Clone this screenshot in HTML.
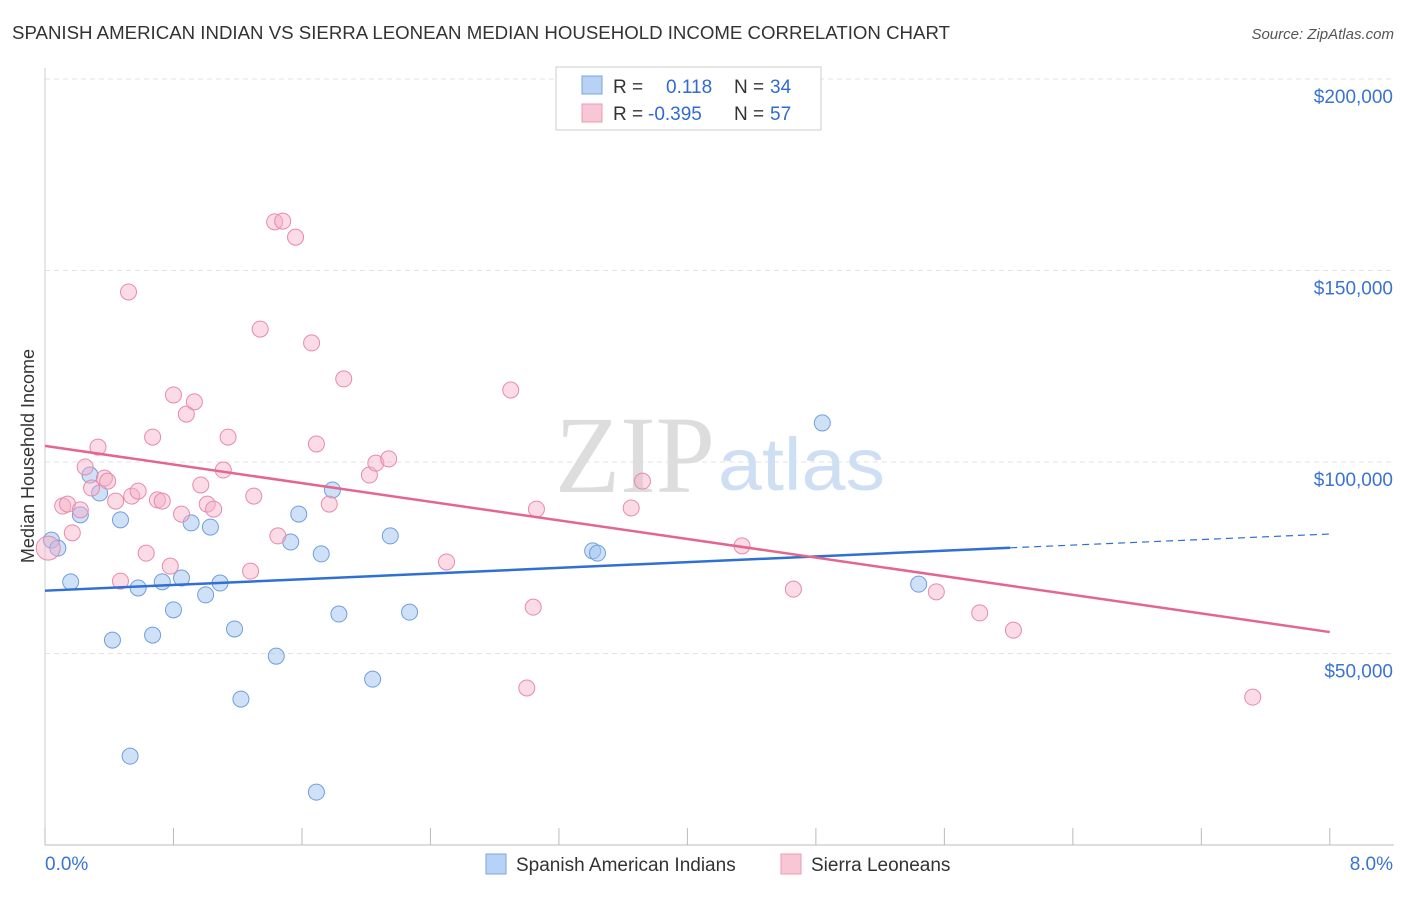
<!DOCTYPE html>
<html><head><meta charset="utf-8"><style>
body{margin:0;background:#fff;font-family:"Liberation Sans",sans-serif}
</style></head><body>
<svg id="chart" width="1406" height="892" xmlns="http://www.w3.org/2000/svg" font-family="Liberation Sans, sans-serif">
<text x="12" y="39" font-size="18" fill="#333" textLength="938" lengthAdjust="spacingAndGlyphs">SPANISH AMERICAN INDIAN VS SIERRA LEONEAN MEDIAN HOUSEHOLD INCOME CORRELATION CHART</text>
<text x="1394" y="39" font-size="15" fill="#555" font-style="italic" text-anchor="end">Source: ZipAtlas.com</text>
<text x="0" y="0" transform="translate(34,456) rotate(-90)" font-size="18" fill="#333" text-anchor="middle">Median Household Income</text>
<g id="grid"></g>
<text x="555" y="492" font-size="110" fill="#ddd" textLength="160" lengthAdjust="spacingAndGlyphs" font-family="Liberation Serif, serif">ZIP</text>
<text x="718" y="490" font-size="74" fill="#cfdff3" textLength="167" lengthAdjust="spacingAndGlyphs">atlas</text>
<g id="axes"></g>
<g id="marks"></g>
<g>
<rect x="556" y="67" width="265" height="63" fill="#fff" stroke="#ccc"/>
<rect x="582" y="76" width="20" height="18" fill="#b8d2f5" stroke="#7aa6e0"/>
<rect x="582" y="104" width="20" height="18" fill="#f9c6d6" stroke="#ea9ab4"/>
<text x="613" y="93" font-size="19" fill="#333">R = <tspan x="666" fill="#2f6bd0">0.118</tspan><tspan x="734" fill="#333">N = </tspan><tspan x="770" fill="#2f6bd0">34</tspan></text>
<text x="613" y="120" font-size="19" fill="#333">R = <tspan x="648" fill="#2f6bd0">-0.395</tspan><tspan x="734" fill="#333">N = </tspan><tspan x="770" fill="#2f6bd0">57</tspan></text>
</g>
<g>
<rect x="486" y="854" width="20" height="20" fill="#b8d2f5" stroke="#7aa6e0"/>
<text x="516" y="871" font-size="19" fill="#333">Spanish American Indians</text>
<rect x="781" y="854" width="20" height="20" fill="#f9c6d6" stroke="#ea9ab4"/>
<text x="811" y="871" font-size="19" fill="#333">Sierra Leoneans</text>
</g>
</svg>
<script>
const yTicks=[50000,100000,150000,200000];
const yTickLabels=["$50,000","$100,000","$150,000","$200,000"];
const blueX=[0.04,0.08,0.16,0.28,0.34,0.22,0.47,0.42,0.58,0.67,0.73,0.80,0.85,0.91,1.00,1.03,1.09,1.18,1.22,1.44,1.53,1.58,1.69,1.72,1.79,1.83,2.04,2.15,2.27,3.41,3.44,4.84,5.44,0.53];
const blueY=[79.6,77.5,68.7,96.6,91.9,86.2,84.9,53.5,67.1,54.8,68.7,61.4,69.7,84.1,65.3,83.0,68.4,56.4,38.1,49.3,79.1,86.4,13.8,76.0,92.7,60.3,43.3,80.7,60.8,76.8,76.2,110.2,68.1,23.2];
const pinkX=[0.02,0.11,0.14,0.17,0.22,0.25,0.29,0.33,0.37,0.39,0.44,0.47,0.52,0.54,0.58,0.63,0.67,0.70,0.73,0.78,0.80,0.85,0.88,0.93,0.97,1.01,1.05,1.11,1.14,1.28,1.30,1.34,1.43,1.48,1.45,1.56,1.66,1.69,1.77,1.86,2.02,2.06,2.14,2.50,2.90,3.00,3.04,3.06,3.65,3.72,4.34,4.66,5.55,5.82,6.03,7.52];
const pinkY=[77.5,88.5,89.0,81.5,87.5,98.7,93.2,103.9,95.8,95.0,89.8,68.9,144.4,91.1,92.4,76.2,106.5,90.1,89.8,72.8,117.5,86.4,112.5,115.7,94.0,89.0,87.7,97.9,106.5,71.5,91.1,134.7,162.7,162.9,80.7,158.7,131.1,104.7,89.0,121.7,96.6,99.7,100.8,73.9,118.8,41.0,62.1,87.7,88.0,95.0,78.1,66.8,66.1,60.6,56.1,38.6];
const blueTrend=[66.4,77.6,81.2]; // at x=0, 6.01, 8
const pinkTrend=[104.2,55.6];      // at x=0, 8
const NS="http://www.w3.org/2000/svg";
const sx=v=>45+v*160.6;
const sy=v=>845-v/1000*3.83;
function mk(tag,attrs,parent){const e=document.createElementNS(NS,tag);for(const k in attrs)e.setAttribute(k,attrs[k]);document.getElementById(parent).appendChild(e);return e;}
yTicks.forEach((t,i)=>{
 const g=mk('line',{x1:45,x2:1394,y1:sy(t),y2:sy(t),stroke:'#e3e3e3','stroke-dasharray':'5,4'},'grid');
 
 
 const l=mk('text',{x:1393,y:sy(t)+24,'font-size':19,fill:'#3a73d2','text-anchor':'end'},'axes');
 l.textContent=yTickLabels[i];
 
 
});
const xa=mk('line',{x1:45,x2:1394,y1:845,y2:845,stroke:'#bbb'},'axes');


const ya=mk('line',{x1:45,x2:45,y1:68,y2:845,stroke:'#ccc'},'axes');


for(let i=0;i<=10;i++){const t=mk('line',{x1:sx(i*0.8),x2:sx(i*0.8),y1:828,y2:845,stroke:'#bbb'},'axes');
 
 }
const x0=mk('text',{x:45,y:870,'font-size':19,fill:'#3a73d2'},'axes');x0.textContent='0.0%';


const x1=mk('text',{x:1393,y:870,'font-size':19,fill:'#3a73d2','text-anchor':'end'},'axes');x1.textContent='8.0%';


blueX.forEach((x,i)=>{const c=mk('circle',{cx:sx(x),cy:sy(blueY[i]*1000),r:8,fill:'rgba(160,195,240,0.5)',stroke:'#6f9ee0','stroke-width':1},'marks');
 
 });
pinkX.forEach((x,i)=>{const c=mk('circle',{cx:sx(x),cy:sy(pinkY[i]*1000),r:i===0?12:8,fill:'rgba(245,175,200,0.45)',stroke:'#e98aa8','stroke-width':1},'marks');
 
 });
const bl=mk('line',{x1:sx(0),y1:sy(blueTrend[0]*1000),x2:sx(6.01),y2:sy(blueTrend[1]*1000),stroke:'#2f6fd6','stroke-width':2.5},'marks');


const bd=mk('line',{x1:sx(6.01),y1:sy(blueTrend[1]*1000),x2:sx(8),y2:sy(blueTrend[2]*1000),stroke:'#2f6fd6','stroke-width':1.2,'stroke-dasharray':'7,5'},'marks');


const pl=mk('line',{x1:sx(0),y1:sy(pinkTrend[0]*1000),x2:sx(8),y2:sy(pinkTrend[1]*1000),stroke:'#e4668f','stroke-width':2.5},'marks');


</script>
</body></html>
